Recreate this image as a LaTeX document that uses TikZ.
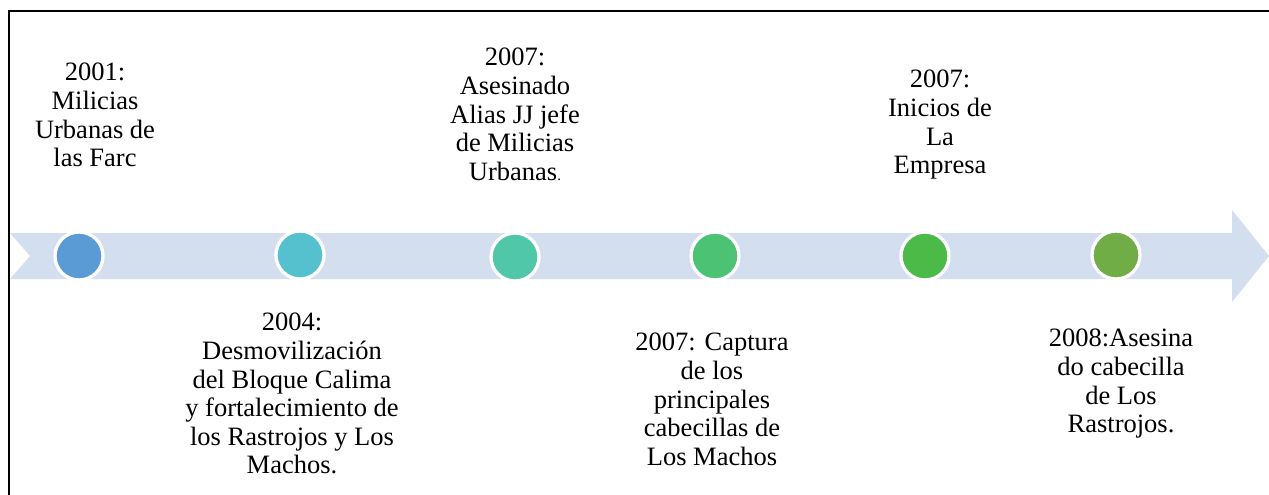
\documentclass[tikz,border=0pt]{standalone}
\usepackage{fontspec}
\setmainfont{Liberation Serif}
\definecolor{band}{HTML}{D3DEEF}
\definecolor{cA}{HTML}{5B9BD5}
\definecolor{cB}{HTML}{55C1CE}
\definecolor{cC}{HTML}{51C7A9}
\definecolor{cD}{HTML}{4CC274}
\definecolor{cE}{HTML}{4CBA46}
\definecolor{cF}{HTML}{70AD47}
\tikzset{
  dot/.style={circle, draw=white, line width=3.3pt, minimum size=48pt, inner sep=0pt},
  evt/.style={anchor=north, align=center, inner sep=0pt,
    font=\fontsize{26.5}{28.6}\selectfont}
}
\begin{document}
\begin{tikzpicture}[x=1pt,y=-1pt]
\useasboundingbox (0,0) rectangle (1269,495);
\fill[white] (0,0) rectangle (1269,495);
% frame
\draw[line width=2pt] (9,495) -- (9,11) -- (1269,11);
% arrow band
\fill[band] (10,233) -- (1232,233) -- (1232,210) -- (1269,256) -- (1232,302) -- (1232,279) -- (10,279) -- (30,256) -- cycle;
% dots
\node[dot, fill=cA] (c1) at (79,256) {};
\node[dot, fill=cB] (c2) at (300,255) {};
\node[dot, fill=cC] (c3) at (515,257) {};
\node[dot, fill=cD] (c4) at (715,256) {};
\node[dot, fill=cE] (c5) at (925,256) {};
\node[dot, fill=cF] (c6) at (1116,255) {};
% texts above
\node[evt] (t1) at (95,63) {2001:\\Milicias\\Urbanas de\\las Farc};
\node[evt] (t2) at (515,48) {2007:\\Asesinado\\Alias JJ jefe\\de Milicias\\Urbanas{\fontsize{15}{28}\selectfont .}};
\node[evt] (t3) at (940,70) {2007:\\Inicios de\\La\\Empresa};
% texts below
\node[evt] (t4) at (292,313) {2004:\\Desmovilización\\del Bloque Calima\\y fortalecimiento de\\los Rastrojos y Los\\Machos.};
\node[evt] (t5) at (712,333) {2007: Captura\\de los\\principales\\cabecillas de\\Los Machos};
\node[evt] (t6) at (1121,329) {2008:Asesina\\do cabecilla\\de Los\\Rastrojos.};
\end{tikzpicture}
\end{document}
